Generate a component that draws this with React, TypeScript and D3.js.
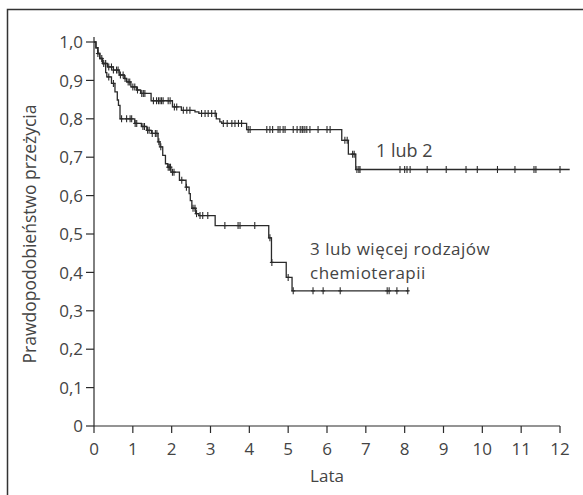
import * as d3 from 'd3'

// Kaplan-Meier curves: survival by number of chemotherapy regimens
const yearTicks = d3.range(0, 13)
const survTicks = [0, 0.1, 0.2, 0.3, 0.4, 0.5, 0.6, 0.7, 0.8, 0.9, 1.0]

// group "1 lub 2"
const fewTimes = [0, 0.05, 0.1, 0.15, 0.22, 0.35, 0.5, 0.65, 0.78, 0.84, 0.95, 1.1, 1.2, 1.47, 2.02, 2.25, 2.6, 2.7, 3.15, 3.24, 3.29, 3.93, 6.38, 6.55, 6.74]
const fewSurv = [1.0, 0.985, 0.97, 0.957, 0.944, 0.935, 0.927, 0.914, 0.905, 0.896, 0.883, 0.875, 0.866, 0.847, 0.831, 0.822, 0.818, 0.814, 0.8, 0.792, 0.788, 0.772, 0.744, 0.708, 0.668]
const fewEnd = 12.25
const fewCensor = [
  0.1, 0.2, 0.3, 0.38, 0.45, 0.5, 0.58, 0.62, 0.68, 0.75, 0.8, 0.88, 0.92, 1.0, 1.05, 1.12,
  1.23, 1.27, 1.31, 1.53, 1.61, 1.66, 1.7, 1.74, 1.78, 1.91, 1.96, 2.07, 2.13, 2.3, 2.39, 2.47,
  2.77, 2.86, 2.94, 3.03, 3.12, 3.33, 3.43, 3.55, 3.63, 3.72, 3.8, 3.97, 4.02, 4.45, 4.53, 4.6,
  4.74, 4.79, 4.87, 4.92, 5.13, 5.23, 5.31, 5.36, 5.38, 5.43, 5.48, 5.56, 5.77, 6.0, 6.08,
  6.46, 6.52, 6.66, 6.7, 6.77, 6.82, 6.85, 7.88, 8.0, 8.06, 8.14, 8.58, 9.07, 9.58, 9.87,
  10.39, 10.84, 11.33, 11.38, 12.0,
]

// group "3 lub więcej rodzajów chemioterapii"
const manyTimes = [0, 0.05, 0.1, 0.15, 0.22, 0.3, 0.33, 0.45, 0.54, 0.6, 0.63, 0.67, 1.05, 1.22, 1.36, 1.48, 1.65, 1.7, 1.77, 1.84, 1.9, 1.98, 2.2, 2.37, 2.45, 2.48, 2.52, 2.62, 2.7, 3.12, 4.5, 4.57, 4.95, 5.1]
const manySurv = [1.0, 0.985, 0.97, 0.957, 0.944, 0.92, 0.909, 0.892, 0.87, 0.849, 0.835, 0.8, 0.788, 0.78, 0.77, 0.762, 0.74, 0.727, 0.705, 0.683, 0.674, 0.661, 0.64, 0.622, 0.605, 0.587, 0.567, 0.553, 0.548, 0.522, 0.49, 0.426, 0.387, 0.352]
const manyEnd = 8.1
const manyCensor = [
  0.25, 0.38, 0.5, 0.71, 0.84, 0.93, 0.97, 1.06, 1.1, 1.26, 1.3, 1.38, 1.42, 1.5, 1.58, 1.62,
  1.67, 1.72, 1.91, 1.94, 1.97, 2.02, 2.06, 2.26, 2.38, 2.55, 2.6, 2.64, 2.73, 2.8, 2.93,
  3.37, 3.71, 3.76, 4.14, 4.53, 4.58, 5.0, 5.13, 5.64, 5.9, 6.34, 7.55, 7.6, 7.8, 8.08,
]

const W = 583
const H = 495
const font = '"Open Sans", "Noto Sans", sans-serif'
const ink = '#2a2a2a'
const textInk = '#444'

const x = d3.scaleLinear().domain([0, 12]).range([94, 560])
const y = d3.scaleLinear().domain([0, 1]).range([426, 42])

const fmt = (v: number) => (v === 0 ? '0' : v.toFixed(1).replace('.', ','))

function stepPoints(times: number[], surv: number[], end: number): [number, number][] {
  const pts: [number, number][] = times.map((t, i) => [t, surv[i]])
  pts.push([end, surv[surv.length - 1]])
  return pts
}

function survAt(times: number[], surv: number[], t: number) {
  const i = d3.bisectRight(times, t) - 1
  return surv[Math.max(0, i)]
}

const line = d3
  .line<[number, number]>()
  .x(d => x(d[0]))
  .y(d => y(d[1]))
  .curve(d3.curveStepAfter)

function Curve({ times, surv, end, censor }: { times: number[]; surv: number[]; end: number; censor: number[] }) {
  return (
    <g>
      <path d={line(stepPoints(times, surv, end)) ?? ''} fill="none" stroke={ink} strokeWidth={1.3} />
      {censor.map((t, i) => {
        const cx = x(t)
        const cy = y(survAt(times, surv, t))
        return (
          <g key={i} stroke={ink} strokeWidth={1.1}>
            <line x1={cx} x2={cx} y1={cy - 3.5} y2={cy + 3.5} />
            <line x1={cx - 2} x2={cx + 2} y1={cy} y2={cy} />
          </g>
        )
      })}
    </g>
  )
}

export default function App() {
  return (
    <svg
      width={W}
      height={H}
      viewBox={`0 0 ${W} ${H}`}
      style={{ position: 'absolute', left: 0, top: 0, background: '#fff' }}
      fontFamily={font}
    >
      {/* frame */}
      <path d={`M7.5,${H} V9.5 H${W}`} fill="none" stroke="#333" strokeWidth={1.5} />

      {/* y axis */}
      <line x1={x(0)} x2={x(0)} y1={y(1) - 5} y2={y(0)} stroke={ink} strokeWidth={1.2} />
      {survTicks.map(v => (
        <g key={v}>
          <line x1={x(0) - 8} x2={x(0)} y1={y(v)} y2={y(v)} stroke={ink} strokeWidth={1.2} />
          <text x={x(0) - 11} y={y(v)} dy="0.36em" textAnchor="end" fontSize={17} fill={textInk}>
            {fmt(v)}
          </text>
        </g>
      ))}

      {/* x axis */}
      <line x1={x(0)} x2={x(12)} y1={y(0)} y2={y(0)} stroke={ink} strokeWidth={1.2} />
      {yearTicks.map(v => (
        <g key={v}>
          <line x1={x(v)} x2={x(v)} y1={y(0)} y2={y(0) + 7} stroke={ink} strokeWidth={1.2} />
          <text x={x(v)} y={455} textAnchor="middle" fontSize={17} fill={textInk}>
            {v}
          </text>
        </g>
      ))}

      <text x={(x(0) + x(12)) / 2} y={482} textAnchor="middle" fontSize={17} fill={textInk}>
        Lata
      </text>
      <text
        transform={`translate(36,${(y(0) + y(1)) / 2}) rotate(-90)`}
        textAnchor="middle"
        fontSize={17.5}
        fill={textInk}
      >
        Prawdopodobieństwo przeżycia
      </text>

      <Curve times={fewTimes} surv={fewSurv} end={fewEnd} censor={fewCensor} />
      <Curve times={manyTimes} surv={manySurv} end={manyEnd} censor={manyCensor} />

      <text x={376} y={157} fontSize={18} fill={textInk}>
        1 lub 2
      </text>
      <text x={310} y={255} fontSize={17} letterSpacing={0.5} fill={textInk}>
        3 lub więcej rodzajów
      </text>
      <text x={310} y={279} fontSize={17} letterSpacing={0.5} fill={textInk}>
        chemioterapii
      </text>
    </svg>
  )
}
